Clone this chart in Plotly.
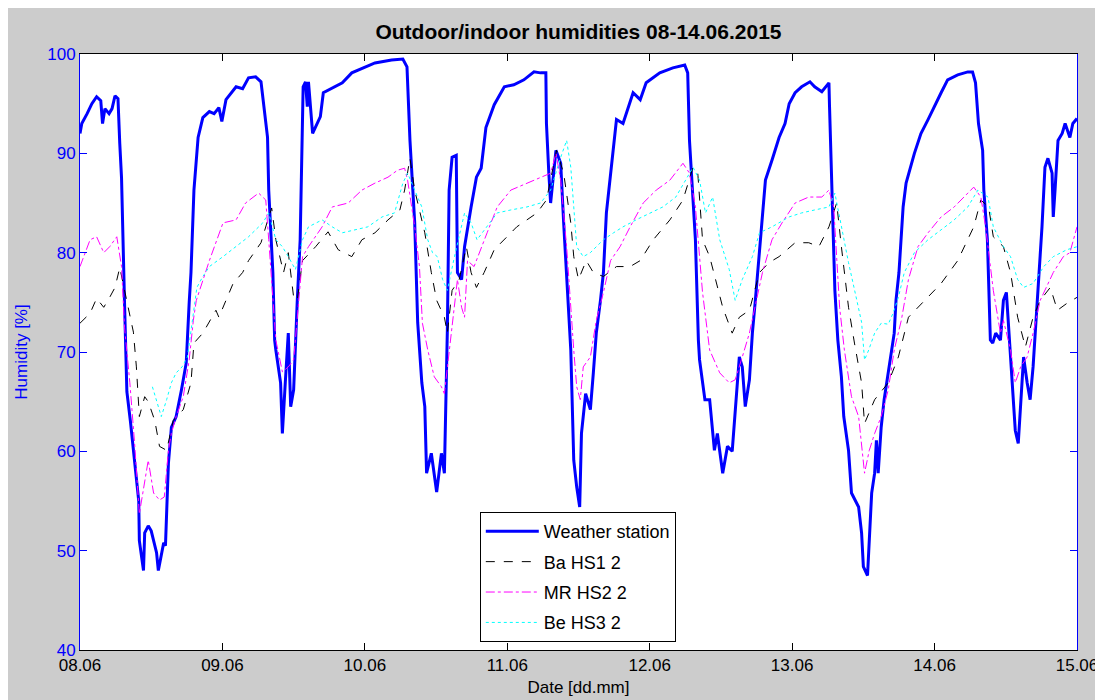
import pandas as pd
import plotly.graph_objects as go

# hours after 08.06.2015 00:00, humidity in %
ws_hours = [0.0, 0.3, 1.2, 2.0, 2.8, 3.5, 3.8, 4.2, 4.9, 5.4, 5.9, 6.4, 6.7, 7.0, 7.5, 7.9, 8.5, 9.0, 9.9, 10.0,
            10.7, 10.9, 11.5, 12.0, 12.9, 13.2, 14.1, 14.4, 14.9, 15.4, 16.2, 17.1, 17.9, 18.4, 18.7, 19.2, 19.9,
            20.7, 21.8, 22.6, 23.4, 23.9, 24.6, 26.3, 27.4, 28.4, 29.6, 30.5, 31.0, 31.6, 31.8, 32.5, 32.8, 33.0,
            33.8, 34.1, 34.6, 35.1, 35.5, 36.0, 36.6, 37.1, 37.6, 38.0, 38.3, 38.5, 39.2, 39.7, 40.5, 41.0, 42.5,
            44.2, 45.8, 48.0, 49.7, 52.5, 54.4, 55.1, 55.6, 56.4, 56.9, 57.6, 58.1, 58.4, 59.2, 60.1, 60.9, 61.4,
            61.7, 61.9, 62.2, 62.7, 63.4, 63.6, 64.3, 64.8, 65.9, 66.8, 67.6, 68.4, 69.8, 71.5, 73.1, 74.8, 76.5,
            77.6, 78.5, 78.6, 79.0, 79.3, 80.2, 81.0, 81.5, 82.0, 82.7, 83.2, 83.7, 84.2, 84.5, 85.2, 86.0, 86.5,
            87.0, 87.7, 88.2, 88.7, 89.4, 90.4, 91.5, 93.2, 94.4, 95.4, 97.7, 99.9, 101.9, 102.4, 102.7, 103.2,
            103.7, 104.2, 104.4, 105.3, 106.1, 106.9, 107.4, 108.3, 109.1, 109.9, 110.4, 111.1, 111.6, 112.1,
            112.8, 113.3, 113.8, 114.6, 115.5, 116.6, 117.8, 118.8, 119.5, 120.5, 121.6, 123.0, 123.8, 125.0,
            126.2, 126.3, 126.8, 127.2, 127.7, 128.3, 128.7, 129.5, 130.0, 131.2, 131.7, 132.0, 132.7, 133.0,
            133.4, 133.9, 134.2, 134.5, 135.0, 135.5, 136.4, 137.2, 137.5, 138.0, 138.7, 139.2, 140.6, 141.7,
            142.9, 143.9, 145.1, 146.2, 147.9, 149.6, 150.4, 150.9, 151.4, 152.1, 152.3, 152.9, 153.4, 153.8,
            154.3, 155.1, 155.6, 156.1, 157.1, 157.6, 158.1, 158.8, 159.0, 159.6, 160.1, 160.6, 161.3, 161.5,
            162.1, 162.6, 163.1, 163.8, 164.0, 164.3, 164.8, 165.5, 166.0, 166.8, 167.3, 168.0]
ws_values = [92.0, 93.0, 94.0, 95.0, 95.7, 95.3, 93.0, 94.5, 94.0, 94.5, 95.8, 95.5, 91.0, 87.5, 75.0, 66.0, 63.0,
             60.0, 55.0, 51.0, 48.0, 51.8, 52.5, 52.0, 49.8, 48.0, 50.8, 50.5, 58.8, 62.4, 63.5, 66.2, 68.9, 75.0,
             78.0, 86.3, 91.6, 93.6, 94.2, 94.0, 94.6, 93.2, 95.4, 96.7, 96.5, 97.6, 97.7, 97.2, 94.4, 91.6, 86.3,
             78.0, 71.2, 70.2, 66.9, 61.8, 67.0, 71.9, 64.5, 66.2, 75.0, 81.3, 96.7, 97.2, 94.7, 97.2, 92.0, 92.7,
             93.7, 96.1, 96.6, 97.1, 98.1, 98.7, 99.1, 99.4, 99.5, 98.7, 91.3, 83.0, 73.0, 66.9, 64.5, 57.8, 59.8,
             55.9, 59.8, 57.8, 65.2, 72.2, 86.3, 89.6, 89.8, 78.0, 77.3, 80.6, 84.6, 87.6, 88.5, 92.6, 94.9, 96.7,
             96.9, 97.4, 98.2, 98.1, 98.1, 93.0, 88.0, 85.0, 90.3, 89.0, 83.0, 78.0, 70.2, 59.1, 56.4, 54.4, 61.8,
             65.8, 64.2, 67.9, 71.9, 75.2, 78.0, 84.0, 88.0, 93.4, 93.0, 96.1, 95.4, 97.1, 98.1, 98.6, 98.9, 98.1,
             91.3, 86.3, 81.3, 71.2, 69.2, 65.2, 65.2, 60.1, 61.8, 57.8, 60.5, 60.0, 64.2, 69.5, 68.5, 64.5, 67.2,
             71.9, 75.2, 81.3, 87.3, 89.3, 91.6, 93.0, 95.0, 96.1, 96.7, 97.2, 96.7, 96.2, 97.1, 94.7, 84.6, 76.2,
             71.2, 67.5, 63.5, 60.1, 55.8, 54.4, 51.8, 48.4, 47.5, 50.8, 55.8, 57.8, 61.1, 57.8, 62.4, 65.2, 68.5,
             71.9, 75.2, 78.0, 84.6, 87.0, 90.0, 92.0, 93.4, 94.7, 96.1, 97.4, 97.9, 98.2, 98.2, 97.1, 93.0, 90.3,
             86.3, 81.3, 71.2, 70.9, 71.9, 71.2, 75.2, 76.0, 66.9, 62.1, 60.8, 66.9, 69.5, 66.9, 65.2, 68.5, 75.2,
             76.2, 82.6, 88.6, 89.5, 88.0, 83.6, 86.3, 91.3, 92.0, 93.0, 91.6, 93.0, 93.5]

ba_hours = [0.0, 1.7, 2.8, 4.0, 5.0, 5.9, 6.7, 7.4, 7.9, 9.0, 9.5, 10.0, 10.9, 11.5, 12.6, 13.4, 14.6, 15.7, 17.4,
            18.7, 19.2, 20.7, 22.9, 23.4, 25.8, 27.4, 28.4, 30.5, 31.8, 32.3, 33.0, 34.3, 35.1, 36.0, 36.6, 37.5,
            39.7, 41.8, 43.5, 45.8, 47.5, 49.7, 51.9, 53.9, 54.7, 55.6, 56.4, 58.1, 59.2, 60.1, 61.4, 61.9, 62.7,
            63.9, 65.1, 65.9, 66.8, 68.1, 69.8, 71.5, 73.6, 77.0, 78.6, 80.3, 81.5, 82.7, 83.2, 84.0, 85.3, 86.5,
            88.2, 90.4, 92.7, 94.4, 96.6, 99.4, 101.6, 103.3, 104.1, 104.9, 106.1, 108.3, 109.9, 111.1, 112.8,
            114.5, 116.1, 117.8, 120.5, 122.8, 124.5, 126.2, 127.5, 128.3, 129.5, 130.5, 131.7, 132.2, 133.9,
            136.2, 137.9, 139.6, 141.2, 145.1, 147.9, 150.6, 151.8, 153.1, 153.9, 155.6, 156.8, 158.0, 159.3,
            160.6, 161.8, 163.5, 164.7, 166.3, 168.0]
ba_values = [72.9, 73.9, 75.4, 74.5, 75.5, 76.5, 78.5, 76.5, 75.2, 72.0, 68.5, 63.5, 65.5, 65.0, 63.1, 60.5, 60.1,
             63.1, 64.2, 66.9, 70.9, 71.9, 74.2, 73.5, 76.9, 78.0, 79.2, 81.0, 83.6, 84.5, 81.3, 78.0, 80.0, 75.5,
             75.2, 79.2, 80.6, 82.1, 80.3, 79.6, 81.3, 82.0, 83.3, 84.3, 86.3, 89.5, 86.3, 82.0, 78.0, 75.2, 73.5,
             71.9, 76.2, 77.3, 80.6, 78.0, 76.5, 78.0, 80.3, 81.3, 82.6, 84.0, 85.3, 90.3, 88.0, 83.0, 79.6, 77.3,
             79.2, 78.0, 77.6, 78.6, 78.6, 79.2, 81.3, 83.3, 85.3, 88.6, 88.0, 81.3, 79.6, 74.5, 71.9, 73.5, 74.2,
             78.0, 79.0, 79.6, 81.0, 81.0, 80.6, 82.6, 85.0, 80.6, 74.5, 70.9, 66.9, 62.8, 65.2, 66.9, 69.5, 73.5,
             74.5, 76.9, 79.2, 82.6, 85.3, 84.6, 81.6, 80.6, 78.0, 73.5, 70.5, 73.5, 75.2, 76.5, 74.2, 74.9, 75.5]

mr_hours = [0.0, 1.7, 2.8, 4.0, 5.0, 6.2, 7.0, 7.5, 8.4, 9.2, 10.0, 10.7, 11.5, 12.4, 13.4, 14.2, 14.9, 15.4, 16.2,
            17.4, 18.4, 19.1, 19.6, 21.8, 24.1, 26.3, 27.9, 30.1, 31.3, 31.8, 32.5, 33.0, 34.1, 35.1, 36.0, 36.6,
            37.5, 38.5, 40.8, 42.5, 45.2, 47.5, 49.7, 51.9, 53.5, 54.7, 55.2, 56.4, 57.2, 57.7, 58.6, 59.7, 60.9,
            61.4, 61.9, 63.6, 64.3, 64.8, 65.3, 66.4, 68.6, 70.3, 72.6, 75.3, 77.6, 79.3, 80.2, 81.0, 82.0, 82.7,
            83.2, 83.7, 84.3, 84.8, 86.0, 87.0, 88.2, 89.4, 91.0, 92.7, 94.9, 97.1, 99.4, 101.6, 102.7, 103.7,
            104.9, 106.1, 107.8, 109.4, 110.4, 111.6, 112.8, 113.8, 115.0, 116.6, 118.3, 120.5, 122.8, 125.0,
            126.2, 127.0, 127.5, 128.0, 128.8, 130.0, 131.2, 132.2, 133.0, 133.9, 135.0, 136.2, 137.2, 138.4,
            139.6, 141.2, 142.9, 145.1, 147.3, 149.6, 150.6, 151.8, 152.6, 153.9, 155.1, 155.6, 156.8, 157.6,
            158.5, 159.6, 160.6, 161.8, 164.0, 165.7, 166.8, 168.0]
mr_values = [78.6, 81.3, 81.6, 80.0, 80.6, 81.6, 78.6, 72.5, 66.9, 60.8, 53.7, 56.4, 59.1, 55.8, 55.1, 55.4, 60.1,
             61.8, 63.5, 65.5, 69.2, 73.2, 75.2, 79.2, 83.0, 83.3, 85.0, 86.0, 85.3, 81.3, 75.2, 71.2, 68.0, 68.5,
             69.2, 73.5, 79.6, 80.6, 82.6, 84.6, 85.0, 86.3, 87.0, 87.6, 88.3, 88.5, 87.3, 82.6, 78.6, 72.9, 70.2,
             67.5, 66.5, 65.8, 68.5, 77.3, 74.5, 73.5, 79.2, 78.6, 82.0, 84.6, 86.3, 87.0, 87.6, 88.0, 90.0, 87.3,
             80.6, 73.9, 70.2, 66.5, 65.2, 68.5, 69.5, 73.2, 76.0, 79.2, 80.6, 82.6, 85.0, 86.3, 87.3, 89.0, 88.0,
             84.6, 76.0, 70.2, 67.9, 66.9, 67.2, 69.5, 71.9, 74.7, 78.0, 81.3, 83.0, 85.0, 85.6, 85.6, 86.3, 84.6,
             79.6, 74.5, 70.2, 65.5, 63.5, 57.8, 60.1, 61.8, 63.5, 66.2, 70.2, 73.2, 77.3, 80.6, 82.0, 83.6, 84.6,
             86.0, 86.6, 85.6, 82.6, 76.2, 71.9, 73.2, 70.2, 66.9, 68.5, 69.5, 71.9, 75.2, 78.0, 79.6, 80.0, 82.6]

be_hours = [12.2, 12.9, 13.7, 14.6, 15.4, 16.2, 17.2, 18.1, 18.9, 19.7, 20.6, 21.8, 24.1, 26.3, 28.4, 30.8, 31.8,
            33.0, 34.1, 35.1, 36.3, 37.5, 38.5, 40.8, 42.5, 44.2, 46.4, 48.5, 50.9, 53.0, 54.4, 55.2, 56.4, 57.6,
            58.6, 59.4, 60.2, 61.1, 61.9, 63.1, 64.8, 65.9, 66.9, 68.6, 70.3, 72.6, 75.3, 77.6, 79.3, 81.0, 82.0,
            82.7, 83.2, 83.7, 84.8, 86.0, 87.0, 88.2, 89.9, 91.5, 93.7, 96.0, 98.2, 100.4, 102.1, 103.3, 104.4,
            105.4, 106.6, 107.8, 109.4, 110.4, 111.6, 113.3, 114.5, 116.6, 119.5, 121.6, 123.8, 126.2, 127.2,
            128.3, 129.5, 130.9, 131.7, 132.2, 132.9, 133.9, 135.0, 136.2, 137.0, 137.9, 138.9, 140.6, 142.9,
            145.1, 147.3, 149.6, 151.3, 153.0, 153.9, 155.6, 156.8, 158.0, 159.0, 160.6, 162.4, 164.0, 166.3,
            168.0]
be_values = [66.5, 65.0, 63.5, 65.2, 66.9, 67.9, 68.5, 69.5, 73.2, 76.5, 77.5, 78.6, 79.6, 80.6, 81.6, 83.0, 84.0,
             81.3, 80.6, 79.6, 78.3, 81.3, 82.6, 83.3, 82.6, 82.0, 82.3, 82.6, 83.6, 84.0, 87.0, 88.0, 86.3, 84.6,
             81.3, 80.0, 79.6, 77.3, 76.2, 79.6, 84.0, 83.0, 81.3, 82.6, 84.0, 84.3, 84.6, 85.0, 86.3, 89.6, 91.3,
             88.6, 84.6, 80.6, 79.6, 80.0, 80.6, 81.3, 82.0, 82.6, 83.3, 84.0, 84.6, 85.6, 87.3, 88.6, 87.3, 84.0,
             85.6, 81.3, 78.3, 75.2, 77.3, 79.6, 82.0, 82.6, 83.6, 84.0, 84.3, 84.6, 86.0, 82.6, 79.0, 75.2, 73.0,
             69.2, 70.2, 71.9, 72.9, 72.8, 73.9, 75.5, 78.0, 80.0, 81.3, 82.3, 83.3, 84.6, 86.3, 85.6, 82.6, 80.6,
             79.6, 77.3, 76.5, 76.9, 78.6, 79.6, 80.3, 80.6]

start = pd.Timestamp("2015-06-08")


def to_time(hours):
    return [start + pd.Timedelta(hours=h) for h in hours]


font = "Liberation Sans, Arial, sans-serif"

fig = go.Figure()
fig.add_trace(go.Scatter(x=to_time(ws_hours), y=ws_values, name="Weather station", mode="lines",
                         legendgroup="ws", line=dict(color="#0000ff", width=3)))
fig.add_trace(go.Scatter(x=to_time(ba_hours), y=ba_values, name="Ba HS1 2", mode="lines",
                         legendgroup="ba", line=dict(color="black", width=1, dash="dash")))
fig.add_trace(go.Scatter(x=to_time(mr_hours), y=mr_values, name="MR HS2 2", mode="lines",
                         legendgroup="mr", line=dict(color="#ff00ff", width=1, dash="dashdot")))
fig.add_trace(go.Scatter(x=to_time(be_hours), y=be_values, name="Be HS3 2", mode="lines",
                         legendgroup="be", line=dict(color="#00ffff", width=1, dash="dot")))

fig.update_layout(
    width=1103, height=700,
    margin=dict(l=65, r=34, t=46, b=58),
    paper_bgcolor="#cccccc", plot_bgcolor="white",
    font=dict(family=font, size=17, color="black"),
    title=dict(text="<b>Outdoor/indoor humidities 08-14.06.2015</b>", x=0.5, xref="paper", xanchor="center",
               y=1 - 24 / 700, yanchor="middle", font=dict(size=21, color="black")),
    legend=dict(x=0.401, y=0.2315, xanchor="left", yanchor="top", bgcolor="white",
                bordercolor="black", borderwidth=1, font=dict(size=18, color="black"),
                traceorder="grouped", tracegroupgap=4, itemwidth=53),
    showlegend=True,
)
fig.update_xaxes(
    range=[start, start + pd.Timedelta(days=7)], dtick=86400000, tickformat="%d.%m",
    ticks="inside", ticklen=7, tickcolor="black", linecolor="black", linewidth=1, mirror="ticks",
    showgrid=False, zeroline=False, tickfont=dict(size=17, color="black"),
    title=dict(text="Date [dd.mm]", font=dict(size=17, color="black"), standoff=6),
)
fig.update_yaxes(
    range=[40, 100], dtick=10, ticks="inside", ticklen=7, tickcolor="#0000ff", linecolor="#0000ff",
    linewidth=1, mirror="ticks", showgrid=False, zeroline=False,
    tickfont=dict(size=17, color="#0000ff"),
    title=dict(text="Humidity [%]", font=dict(size=17, color="#0000ff"), standoff=15),
)

fig.write_html("out.html")
